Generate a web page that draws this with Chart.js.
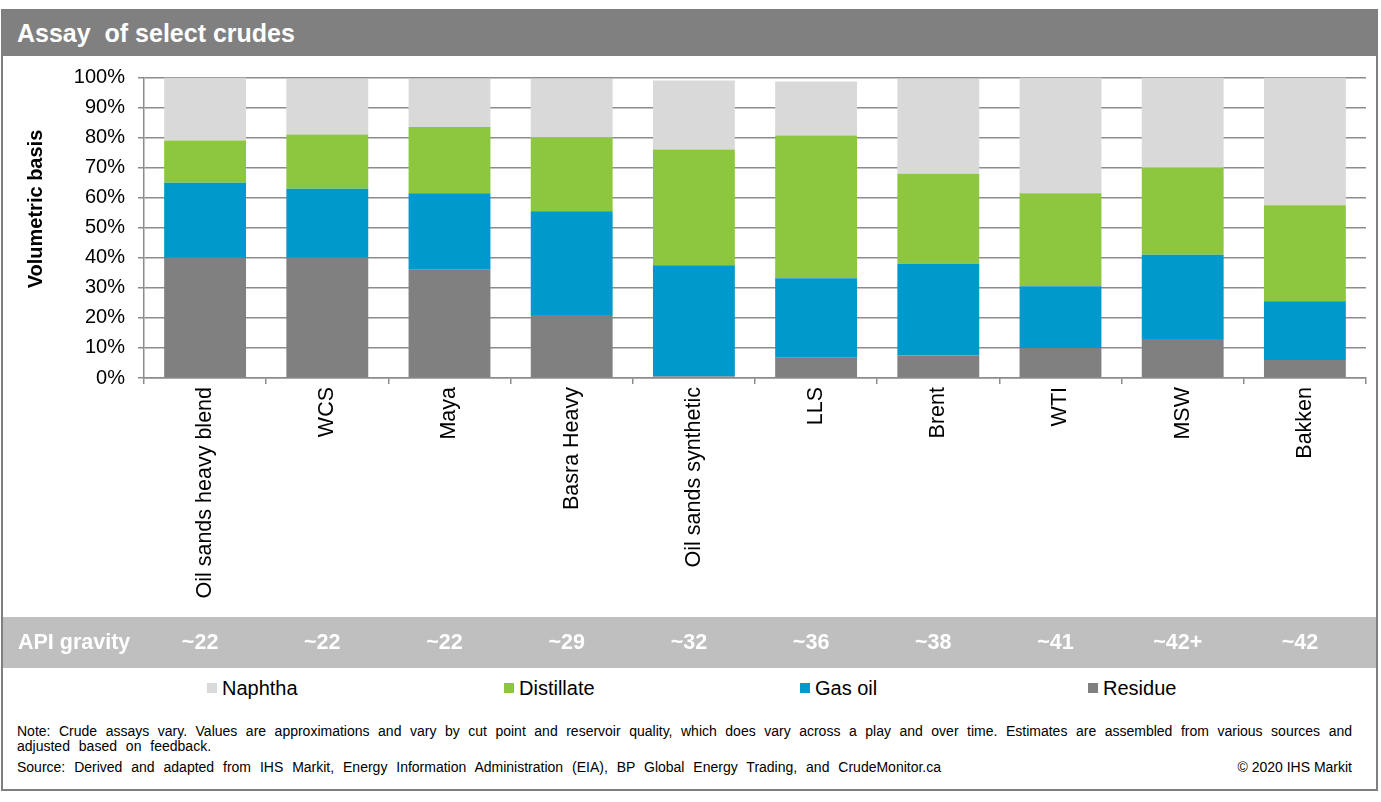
<!DOCTYPE html>
<html>
<head>
<meta charset="utf-8">
<title>Assay of select crudes</title>
<script src="https://cdn.jsdelivr.net/npm/chart.js@4.4.1/dist/chart.umd.min.js"></script>
<style>
  body { margin: 0; background: #fff; font-family: Arial, "Liberation Sans", sans-serif; }
  #frame { position: absolute; left: 1px; top: 9px; width: 1377px; height: 782px; border: 2px solid #7f7f7f; box-sizing: border-box; }
  #titlebar { position: absolute; left: 0; top: 0; right: 0; height: 45px; background: #808080; color: #fff;
    font-weight: bold; font-size: 25px; line-height: 45px; padding-left: 14px; white-space: pre; }
  #chart { position: absolute; left: 0; top: 56px; }
  #legend { position: absolute; left: 207px; top: 677px; height: 22px; display: flex; }
  .item { display: flex; align-items: center; font-size: 20px; color: #000; }
  .box { width: 10px; height: 10px; margin-right: 5px; }
  .note { position: absolute; left: 17px; width: 1335px; font-size: 14px; line-height: 16px; color: #000; }
  #note1 { top: 723px; text-align: justify; text-align-last: justify; white-space: nowrap; }
  #note2 { top: 738px; word-spacing: 5px; }
  #source { top: 759px; display: flex; justify-content: space-between; }
  #source span:first-child { word-spacing: 5px; }
</style>
</head>
<body>
<div id="frame"><div id="titlebar">Assay  of select crudes</div></div>
<canvas id="chart" width="1381" height="616"></canvas>
<div id="legend"></div>
<div class="note" id="note1">Note: Crude assays vary. Values are approximations and vary by cut point and reservoir quality, which does vary across a play and over time. Estimates are assembled from various sources and</div>
<div class="note" id="note2">adjusted based on feedback.</div>
<div class="note" id="source"><span>Source: Derived and adapted from IHS Markit, Energy Information Administration (EIA), BP Global Energy Trading, and CrudeMonitor.ca</span><span>© 2020 IHS Markit</span></div>

<script>
const FONT = 'Arial, "Liberation Sans", sans-serif';

const categories = ['Oil sands heavy blend', 'WCS', 'Maya', 'Basra Heavy', 'Oil sands synthetic', 'LLS', 'Brent', 'WTI', 'MSW', 'Bakken'];
const apiGravity = ['~22', '~22', '~22', '~29', '~32', '~36', '~38', '~41', '~42+', '~42'];

// percent of barrel, bottom to top
const residue    = [40, 40, 36, 21, 0.5, 6.7, 7.5, 10, 13, 6];
const gasOil     = [25, 23, 25.5, 34.5, 37, 26.5, 30.5, 20.5, 28, 19.5];
const distillate = [14, 18, 22, 24.5, 38.5, 47.5, 30, 31, 29, 32];
const naphtha    = [21, 18.5, 16, 19.5, 23, 18, 31.5, 38.5, 30, 42.5];

const yTicks = [0, 10, 20, 30, 40, 50, 60, 70, 80, 90, 100];

const seriesNames  = ['Residue', 'Gas oil', 'Distillate', 'Naphtha'];
const seriesColors = ['#808080', '#0099cc', '#8dc63f', '#d9d9d9'];
const seriesData   = [residue, gasOil, distillate, naphtha];

// legend in reverse stack order, like the source
const legendWidths = [297, 296, 288, 120];
const legend = document.getElementById('legend');
for (let i = seriesNames.length - 1; i >= 0; i--) {
  const item = document.createElement('div');
  item.className = 'item';
  item.style.width = legendWidths[seriesNames.length - 1 - i] + 'px';
  item.innerHTML = `<span class="box" style="background:${seriesColors[i]}"></span><span>${seriesNames[i]}</span>`;
  legend.appendChild(item);
}

// grey API gravity strip under the category labels, plus the y title
const apiBand = {
  id: 'apiBand',
  afterDraw(chart) {
    const ctx = chart.ctx;
    const x = chart.scales.x;
    ctx.save();
    ctx.fillStyle = '#bfbfbf';
    ctx.fillRect(3, 561, 1373, 51);
    ctx.fillStyle = '#fff';
    ctx.font = 'bold 21.5px ' + FONT;
    ctx.textBaseline = 'middle';
    ctx.textAlign = 'left';
    ctx.fillText('API gravity', 18, 587);
    ctx.textAlign = 'center';
    apiGravity.forEach((g, i) => ctx.fillText(g, x.getPixelForValue(i) - 5, 587));

    ctx.translate(36, 153);
    ctx.rotate(-Math.PI / 2);
    ctx.fillStyle = '#000';
    ctx.font = 'bold 20px ' + FONT;
    ctx.fillText('Volumetric basis', 0, 0);
    ctx.restore();
  }
};

new Chart(document.getElementById('chart'), {
  type: 'bar',
  data: {
    labels: categories,
    datasets: seriesNames.map((name, i) => ({
      label: name,
      data: seriesData[i],
      backgroundColor: seriesColors[i],
      borderWidth: 0,
      categoryPercentage: 1,
      barPercentage: 0.67
    }))
  },
  options: {
    responsive: false,
    animation: false,
    devicePixelRatio: 1,
    layout: { padding: { top: 21.5, right: 15, bottom: 0, left: 0 } },
    plugins: { legend: { display: false }, tooltip: { enabled: false } },
    scales: {
      x: {
        stacked: true,
        afterFit(s) { s.height = 294; },
        grid: { drawOnChartArea: false, drawTicks: true, tickLength: 6, color: '#8c8c8c', lineWidth: 1.5, offset: true },
        border: { display: true, color: '#8c8c8c', width: 1.5 },
        ticks: {
          autoSkip: false, minRotation: 90, maxRotation: 90, padding: 3,
          color: '#000', font: { family: FONT, size: 21.5 }
        }
      },
      y: {
        stacked: true,
        min: 0, max: 100,
        afterFit(s) { s.width = 144; s.paddingTop = 0; s.paddingBottom = 0; },
        afterBuildTicks(s) { s.ticks = yTicks.map(v => ({ value: v })); },
        grid: { color: '#8c8c8c', lineWidth: 1.5, tickLength: 6 },
        border: { display: true, color: '#8c8c8c', width: 1.5 },
        ticks: {
          padding: 13, color: '#000', font: { family: FONT, size: 20 },
          callback: v => v + '%'
        }
      }
    }
  },
  plugins: [apiBand]
});
</script>
</body>
</html>
